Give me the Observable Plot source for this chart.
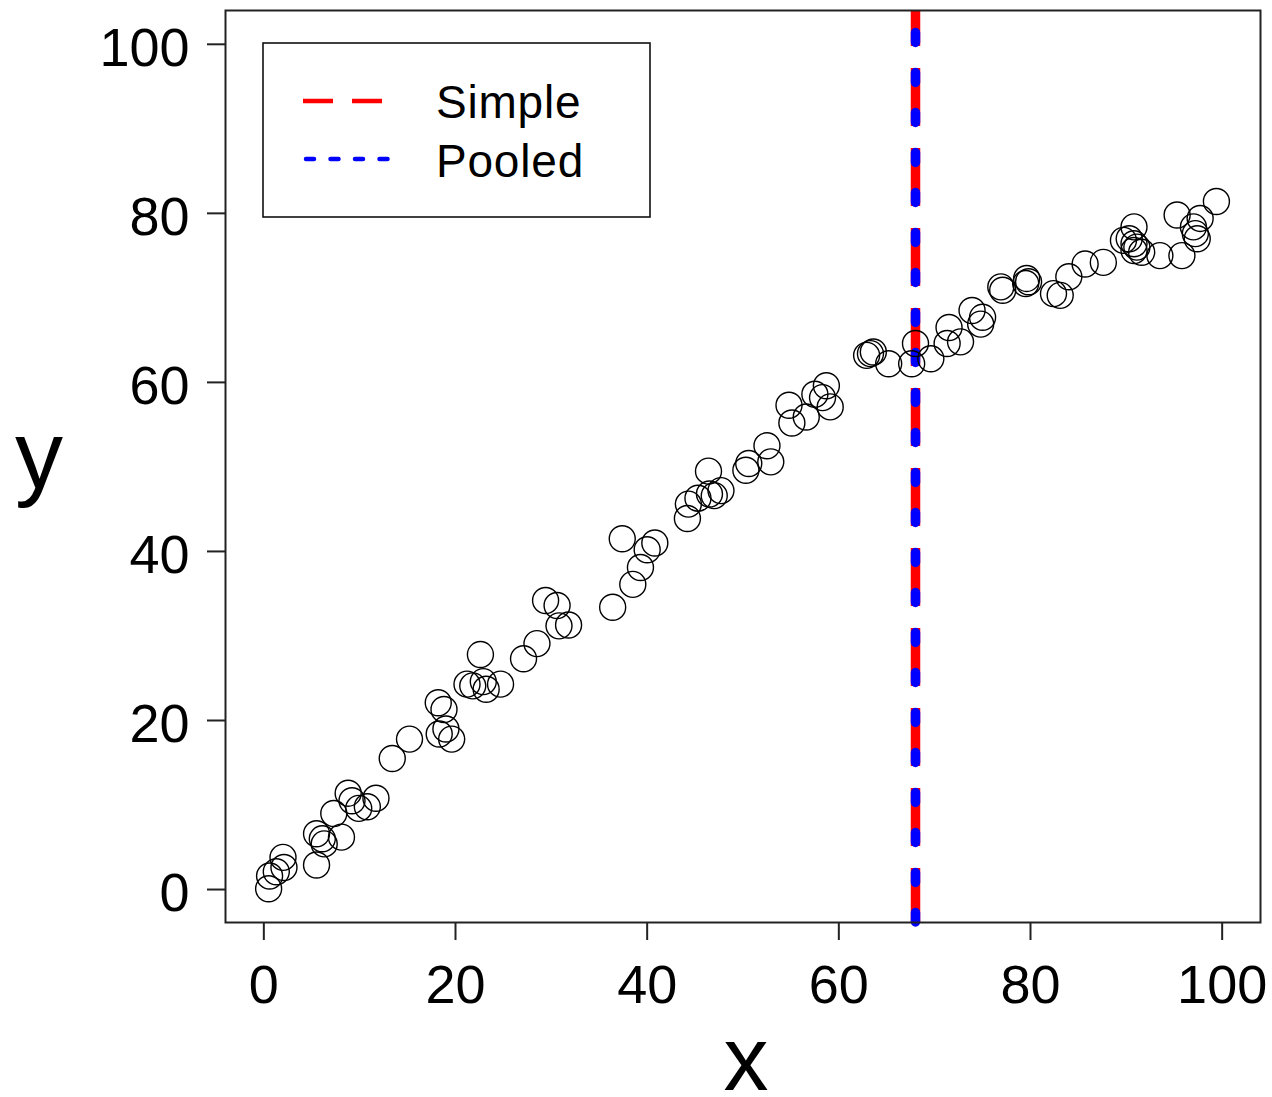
<!DOCTYPE html>
<html><head><meta charset="utf-8">
<script src="https://cdn.jsdelivr.net/npm/d3@7"></script>
<script src="https://cdn.jsdelivr.net/npm/@observablehq/plot@0.6"></script>
<style>
body{margin:0;background:#fff}
#wrap{position:relative;width:1272px;height:1097px;font-family:"Liberation Sans",Arial,sans-serif}
#wrap svg{display:block}
</style>
</head><body><div id="wrap"></div>
<script>
const xValues = [0.5,0.6,1.3,2.0,2.1,5.5,5.5,6.1,6.3,7.3,8.1,8.8,9.2,9.9,10.8,11.7,13.4,15.2,18.2,18.8,18.3,19.0,19.6,21.2,21.8,22.6,22.9,23.2,24.7,27.1,28.5,29.4,30.6,30.8,31.8,36.4,37.4,38.5,39.3,40.0,40.8,44.2,44.3,45.3,46.4,46.5,47.0,47.7,50.3,50.6,52.5,52.9,54.8,55.1,56.6,57.5,58.3,58.7,59.1,62.9,63.3,63.6,65.2,67.6,68.0,69.6,71.5,71.3,72.7,73.9,74.8,75.0,76.9,77.1,79.6,79.8,79.5,82.4,83.1,84.0,85.7,87.6,90.8,89.7,90.3,90.8,91.1,90.8,91.6,93.5,95.8,95.3,97.0,97.2,97.4,97.7,99.4];
const yValues = [0.1,1.6,2.1,3.8,2.6,2.9,6.6,6.0,5.4,9.0,6.2,11.4,10.5,9.6,9.8,10.8,15.5,17.8,22.1,21.3,18.4,19.0,17.8,24.3,24.1,27.8,24.6,23.7,24.3,27.3,29.1,34.2,33.6,31.2,31.3,33.4,41.5,36.1,38.1,40.2,41.0,43.9,45.6,46.3,49.5,46.8,46.6,47.2,49.6,50.4,52.5,50.6,57.3,55.2,55.9,58.6,58.2,59.6,57.1,63.2,63.4,63.6,62.2,62.2,64.6,62.8,66.5,64.6,64.8,68.5,66.9,67.7,71.3,70.9,72.3,71.9,71.7,70.5,70.3,72.5,74.0,74.2,78.4,76.8,77.0,76.4,76.0,75.6,75.4,75.0,75.0,79.8,78.4,77.6,77.0,79.4,81.4];
const xTicks = [0,20,40,60,80,100];
const yTicks = [0,20,40,60,80,100];
const splitPoint = [68];
const legendLabels = ["Simple","Pooled"];
const legendColors = ["#ff0000","#0000ff"];
const xTitle = ["x"];
const yTitle = ["y"];

const points = xValues.map((x, i) => ({x, y: yValues[i]}));

const chart = Plot.plot({
  width: 1272, height: 1097,
  marginLeft: 225, marginRight: 12, marginTop: 10, marginBottom: 175,
  style: {fontFamily: "'Liberation Sans', Arial, sans-serif", background: "white", color: "black"},
  x: {domain: [-4, 104]},
  y: {domain: [-3.9, 104]},
  marks: [
    Plot.ruleX(splitPoint, {stroke: legendColors[0], strokeWidth: 9.5, strokeDasharray: "58,22", strokeDashoffset: 22}),
    Plot.ruleX(splitPoint, {stroke: legendColors[1], strokeWidth: 9.5, strokeDasharray: "10,30", strokeDashoffset: 17.5, strokeLinecap: "round"}),
    Plot.dot(points, {x: "x", y: "y", r: 13, stroke: "black", strokeWidth: 1.4}),
    Plot.frame({stroke: "#222", strokeWidth: 2}),
    Plot.axisX({ticks: xTicks, tickSize: 18, fill: "none", stroke: "#222", strokeWidth: 2, label: null}),
    Plot.axisX({ticks: xTicks, tickSize: 0, tickPadding: 42, fontSize: 54, fill: "black", label: null}),
    Plot.axisY({ticks: yTicks, tickSize: 18, fill: "none", stroke: "#222", strokeWidth: 2, label: null}),
    Plot.axisY({ticks: yTicks, tickSize: 0, tickPadding: 36, dy: 4, fontSize: 54, fill: "black", label: null}),
    Plot.text(xTitle, {frameAnchor: "bottom", lineAnchor: "bottom", text: d => d, dx: 3, dy: 167, fontSize: 90, fill: "black"}),
    Plot.text(yTitle, {frameAnchor: "left", lineAnchor: "bottom", textAnchor: "middle", text: d => d, dx: -186.5, dy: 21, fontSize: 96, fill: "black"})
  ]
});
const wrap = document.getElementById("wrap");
wrap.appendChild(chart);

// legend box
const lg = d3.create("svg")
  .attr("width", 410).attr("height", 190)
  .style("position", "absolute").style("left", "255px").style("top", "35px");
lg.append("rect").attr("x", 8).attr("y", 8).attr("width", 387).attr("height", 174)
  .attr("fill", "white").attr("stroke", "#111").attr("stroke-width", 1.6);
const rowY = [66, 124];
const dashes = [{dash: "30,19", cap: "butt", x1: 48, x2: 127}, {dash: "8,16.5", cap: "round", x1: 51, x2: 134}];
legendLabels.forEach((lab, i) => {
  lg.append("line").attr("x1", dashes[i].x1).attr("x2", dashes[i].x2).attr("y1", rowY[i]).attr("y2", rowY[i])
    .attr("stroke", legendColors[i]).attr("stroke-width", 4.5)
    .attr("stroke-dasharray", dashes[i].dash).attr("stroke-linecap", dashes[i].cap);
  lg.append("text").attr("x", 181).attr("y", [83, 142][i])
    .attr("font-family", "'Liberation Sans', Arial, sans-serif").attr("font-size", 46)
    .attr("letter-spacing", "0.8px").attr("fill", "black")
    .text(lab);
});
wrap.appendChild(lg.node());
</script>
</body></html>
